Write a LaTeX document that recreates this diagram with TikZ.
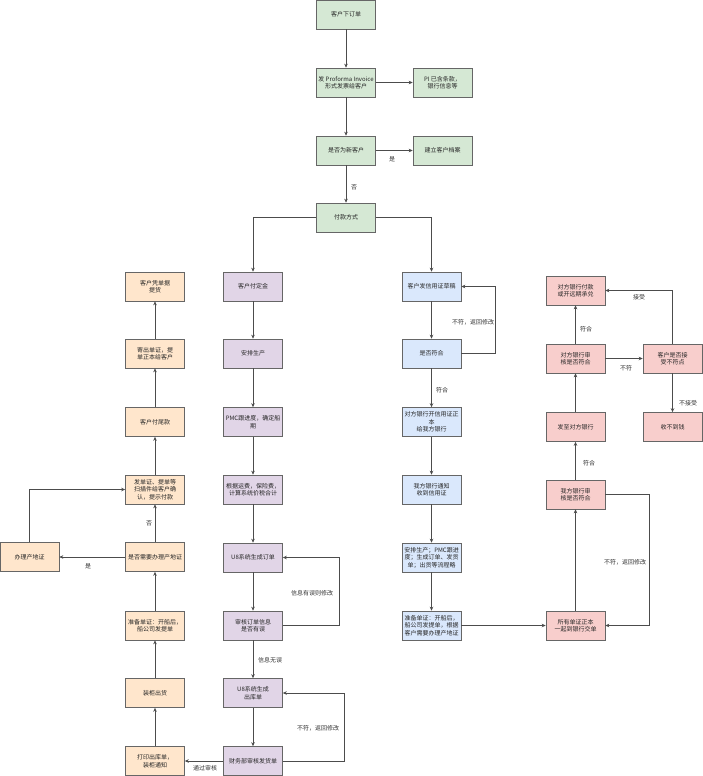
\documentclass[tikz,border=0pt]{standalone}
\usepackage{fontspec}
\setmainfont{Noto Sans CJK SC}
\usepackage{xcolor}
\usetikzlibrary{arrows.meta}
\definecolor{gfill}{HTML}{D5E8D4}
\definecolor{pfill}{HTML}{E1D5E7}
\definecolor{bfill}{HTML}{DAE8FC}
\definecolor{ofill}{HTML}{FFE6CC}
\definecolor{rfill}{HTML}{F8CECC}
\tikzset{box/.style={draw=black!60,line width=0.6pt,minimum width=59pt,
   minimum height=29pt,inner sep=1pt,align=center,
   font=\fontsize{6}{7.5}\selectfont,text=black!85},
 greenbox/.style={box,fill=gfill},
 purplebox/.style={box,fill=pfill},
 bluebox/.style={box,fill=bfill},
 orangebox/.style={box,fill=ofill},
 redbox/.style={box,fill=rfill},
 arr/.style={draw=black!70,line width=0.6pt,-{Stealth[length=4pt,width=3.5pt]}},
 lbl/.style={font=\fontsize{6}{7}\selectfont,text=black!80,inner sep=1pt},
 }

\begin{document}
\begin{tikzpicture}[x=1pt,y=-1pt]
        \useasboundingbox (0,0) rectangle (703,776);
        % order and customer
        \node[greenbox] (order) at (346,14.5) {客户下订单};
        \node[greenbox] (pi) at (346,82.5) {发 Proforma Invoice\\形式发票给客户};
        \node[greenbox] (piinfo) at (442.5,82.5) {PI 已含条款，\\银行信息等};
        \node[greenbox] (newcust) at (346,150.5) {是否为新客户};
        \node[greenbox] (archive) at (442.5,150.5) {建立客户档案};
        \node[greenbox] (pay) at (346,217.5) {付款方式};
        % deposit
        \node[purplebox] (deposit) at (253,286.5) {客户付定金};
        \node[purplebox] (produce) at (253,353.5) {安排生产};
        \node[purplebox] (pmc) at (253,422) {PMC跟进度，确定船\\期};
        \node[purplebox] (freight) at (253,489.5) {根据运费，保险费，\\计算系统价税合计};
        \node[purplebox] (u8order) at (253,557.5) {U8系统生成订单};
        \node[purplebox] (check) at (253,625.5) {审核订单信息\\是否有误};
        \node[purplebox] (u8out) at (253,693) {U8系统生成\\出库单};
        \node[purplebox] (finance) at (253,761) {财务部审核发货单};
        % shipping
        \node[orangebox] (pickup) at (155,286.5) {客户凭单据\\提货};
        \node[orangebox] (sendorig) at (155,353.5) {寄出单证，提\\单正本给客户};
        \node[orangebox] (balance) at (155,422) {客户付尾款};
        \node[orangebox] (scan) at (155,489.5) {发单证、提单等\\扫描件给客户确\\认，提示付款};
        \node[orangebox] (needco) at (155,557) {是否需要办理产地证};
        \node[orangebox] (co) at (29.5,557) {办理产地证};
        \node[orangebox] (prepdoc) at (155,625.5) {准备单证：开船后，\\船公司发提单};
        \node[orangebox] (load) at (155,693) {装柜出货};
        \node[orangebox] (print) at (155,761) {打印出库单，\\装柜通知};
        % letter of credit
        \node[bluebox] (lcdraft) at (431.5,286.5) {客户发信用证草稿};
        \node[bluebox] (lcok) at (431.5,353.5) {是否符合};
        \node[bluebox] (lcorig) at (431.5,422) {对方银行开信用证正\\本\\给我方银行};
        \node[bluebox] (lcrecv) at (431.5,489.5) {我方银行通知\\收到信用证};
        \node[bluebox] (lcprod) at (431.5,557.5) {安排生产；PMC跟进\\度；生成订单、发货\\单；出货等流程略};
        \node[bluebox] (lcdoc) at (431.5,625.5) {准备单证：开船后，\\船公司发提单，根据\\客户需要办理产地证};
        % banks
        \node[redbox] (paid) at (575.5,290.5) {对方银行付款\\或开远期承兑};
        \node[redbox] (theirbank) at (575.5,358.5) {对方银行审\\核是否符合};
        \node[redbox] (forward) at (575.5,427) {发至对方银行};
        \node[redbox] (ourbank) at (575.5,494.5) {我方银行审\\核是否符合};
        \node[redbox] (submit) at (575.5,625.5) {所有单证正本\\一起到银行交单};
        \node[redbox] (accept) at (672.5,358.5) {客户是否接\\受不符点};
        \node[redbox] (nomoney) at (672.5,427) {收不到钱};

        \draw[arr] (order) -- (pi);
        \draw[arr] (pi) -- (piinfo);
        \draw[arr] (pi) -- (newcust);
        \draw[arr] (newcust) -- (archive);
        \draw[arr] (newcust) -- (pay);
        \draw[arr] (pay.west) -| (deposit.north);
        \draw[arr] (pay.east) -| (lcdraft.north);

        \draw[arr] (deposit) -- (produce);
        \draw[arr] (produce) -- (pmc);
        \draw[arr] (pmc) -- (freight);
        \draw[arr] (freight) -- (u8order);
        \draw[arr] (u8order) -- (check);
        \draw[arr] (check.east) -- ++(56.5,0) |- (u8order.east);
        \draw[arr] (check) -- (u8out);
        \draw[arr] (u8out) -- (finance);
        \draw[arr] (finance.east) -- ++(61.5,0) |- (u8out.east);
        \draw[arr] (finance) -- (print);

        \draw[arr] (print) -- (load);
        \draw[arr] (load) -- (prepdoc);
        \draw[arr] (prepdoc) -- (needco);
        \draw[arr] (needco) -- (scan);
        \draw[arr] (needco) -- (co);
        \draw[arr] (co.north) |- (scan.west);
        \draw[arr] (scan) -- (balance);
        \draw[arr] (balance) -- (sendorig);
        \draw[arr] (sendorig) -- (pickup);

        \draw[arr] (lcdraft) -- (lcok);
        \draw[arr] (lcok.east) -- ++(34,0) |- (lcdraft.east);
        \draw[arr] (lcok) -- (lcorig);
        \draw[arr] (lcorig) -- (lcrecv);
        \draw[arr] (lcrecv) -- (lcprod);
        \draw[arr] (lcprod) -- (lcdoc);
        \draw[arr] (lcdoc) -- (submit);

        \draw[arr] (submit) -- (ourbank);
        \draw[arr] (ourbank.east) -- ++(44,0) |- (submit.east);
        \draw[arr] (ourbank) -- (forward);
        \draw[arr] (forward) -- (theirbank);
        \draw[arr] (theirbank) -- (paid);
        \draw[arr] (theirbank) -- (accept);
        \draw[arr] (accept.north) |- (paid.east);
        \draw[arr] (accept) -- (nomoney);

        % edge labels
        \node[lbl] (yesnew) at (392,159) {是};
        \node[lbl] (nonew) at (354,187) {否};
        \node[lbl] (wrong) at (312,593) {信息有误则修改};
        \node[lbl] (right) at (270,660) {信息无误};
        \node[lbl] (finback) at (318,728) {不符，返回修改};
        \node[lbl] (passed) at (205,768) {通过审核};
        \node[lbl] (noco) at (149,523) {否};
        \node[lbl] (yesco) at (88,566) {是};
        \node[lbl] (lcback) at (473,322) {不符，返回修改};
        \node[lbl] (lcyes) at (442,390) {符合};
        \node[lbl] (ourback) at (625,562) {不符，返回修改};
        \node[lbl] (ouryes) at (589,463) {符合};
        \node[lbl] (theiryes) at (586,329) {符合};
        \node[lbl] (theirno) at (626,368) {不符};
        \node[lbl] (acc) at (639,297) {接受};
        \node[lbl] (noacc) at (688,403) {不接受};
    \end{tikzpicture}
\end{document}
